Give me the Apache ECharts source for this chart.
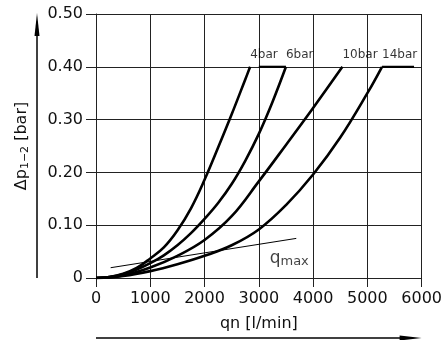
<!DOCTYPE html>
<html><head><meta charset="utf-8">
<script src="https://cdn.jsdelivr.net/npm/echarts@6/dist/echarts.min.js"></script>
<style>html,body{margin:0;padding:0;background:#fff}#c{width:445px;height:340px}</style>
</head><body><div id="c"></div>
<script>
// ---- data (flow qn [l/min], pressure drop [bar]) ----
const curveNames = ['4bar', '6bar', '10bar', '14bar'];
const q4  = [0, 250, 500, 750, 1000, 1250, 1500, 1750, 2000, 2250, 2500, 2750, 2840];
const p4  = [0, 0.002, 0.008, 0.019, 0.037, 0.058, 0.09, 0.132, 0.186, 0.247, 0.31, 0.376, 0.40];
const q6  = [0, 250, 500, 750, 1000, 1250, 1500, 1750, 2000, 2250, 2500, 2750, 3000, 3250, 3500];
const p6  = [0, 0.002, 0.007, 0.016, 0.028, 0.043, 0.062, 0.085, 0.112, 0.142, 0.178, 0.222, 0.273, 0.333, 0.40];
const q10 = [0, 500, 1000, 1500, 2000, 2500, 3000, 3500, 4000, 4540];
const p10 = [0, 0.005, 0.02, 0.042, 0.072, 0.117, 0.183, 0.252, 0.322, 0.40];
const q14 = [0, 500, 1000, 1500, 2000, 2500, 3000, 3500, 4000, 4500, 5000, 5270];
const p14 = [0, 0.004, 0.013, 0.026, 0.042, 0.062, 0.092, 0.138, 0.196, 0.266, 0.35, 0.40];
const cap6q = [3000, 3500];
const cap6p = [0.40, 0.40];
const cap14q = [5270, 5860];
const cap14p = [0.40, 0.40];
const qmaxQ = [270, 3690];
const qmaxP = [0.0195, 0.075];
const qmaxLabelAt = [3200, 0.037];
const yTicks = [0, 0.1, 0.2, 0.3, 0.4, 0.5];
const xTicks = [0, 1000, 2000, 3000, 4000, 5000, 6000];

const zip = (a, b) => a.map((v, i) => [v, b[i]]);
const FONT = 'DejaVu Sans';
const curves = [zip(q4, p4), zip(q6, p6), zip(q10, p10), zip(q14, p14)];
const labelPts = curves.map((c, i) => {
  const top = c.find(p => p[1] >= 0.4);
  return { value: top, name: curveNames[i] };
});

const chart = echarts.init(document.getElementById('c'), null, { renderer: 'canvas', width: 445, height: 340 });
const curveSeries = curves.map((d, i) => ({
  type: 'line', name: curveNames[i], data: d, smooth: 0.4,
  showSymbol: false, lineStyle: { color: '#000', width: 2.6 }, z: 5, silent: true
}));
const capSeries = [zip(cap6q, cap6p), zip(cap14q, cap14p)].map((d, i) => ({
  type: 'line', name: 'cap' + i, data: d, showSymbol: false,
  lineStyle: { color: '#000', width: 2.2 }, z: 5, silent: true
}));
const option = {
  animation: false,
  textStyle: { fontFamily: FONT },
  grid: { left: 96, right: 20, top: 14, bottom: 62, show: false },
  xAxis: {
    type: 'value', min: xTicks[0], max: xTicks[xTicks.length - 1], interval: 1000,
    axisLine: { show: true, lineStyle: { color: '#222', width: 1 } },
    axisTick: { show: true, length: 9, lineStyle: { color: '#222' } },
    splitLine: { show: true, lineStyle: { color: '#222', width: 1 } },
    axisLabel: { interval: 1, color: '#111', fontSize: 16, margin: 13, fontFamily: FONT,
      formatter: v => String(v) },
    name: 'qn [l/min]', nameLocation: 'middle', nameGap: 38,
    nameTextStyle: { color: '#111', fontSize: 16, fontFamily: FONT }
  },
  yAxis: {
    type: 'value', min: yTicks[0], max: yTicks[yTicks.length - 1], interval: 0.1,
    axisLine: { show: true, lineStyle: { color: '#222', width: 1 } },
    axisTick: { show: true, length: 10, lineStyle: { color: '#222' } },
    splitLine: { show: true, lineStyle: { color: '#222', width: 1 } },
    axisLabel: { color: '#111', fontSize: 16, margin: 13, fontFamily: FONT,
      formatter: v => (v === 0 ? '0' : v.toFixed(2)) },
    name: 'Δp{s|1−2} [bar]', nameLocation: 'middle', nameGap: 65, nameRotate: 90,
    nameTextStyle: { color: '#111', fontSize: 16, fontFamily: FONT,
      rich: { s: { fontSize: 11, verticalAlign: 'bottom', padding: [8, 0, 0, 0], fontFamily: FONT, color: '#111' } } }
  },
  series: curveSeries.concat(capSeries, [
    { type: 'line', name: 'qmax', data: zip(qmaxQ, qmaxP), showSymbol: false,
      lineStyle: { color: '#000', width: 1 }, z: 4, silent: true },
    { type: 'scatter', name: 'labels', data: labelPts, symbolSize: 0, silent: true, z: 6,
      label: { show: true, formatter: p => p.name, position: [0, 0], align: 'left',
        verticalAlign: 'bottom', offset: [0, -6], color: '#000', fontSize: 12, fontFamily: FONT } },
    { type: 'scatter', name: 'qmaxLabel', data: [qmaxLabelAt], symbolSize: 0, silent: true, z: 6,
      label: { show: true, formatter: 'q{s|max}', position: [0, 0], align: 'left', verticalAlign: 'middle',
        color: '#111', fontSize: 17, fontFamily: FONT,
        rich: { s: { fontSize: 13, verticalAlign: 'bottom', padding: [6, 0, 0, 0], color: '#111', fontFamily: FONT } } } }
  ])
};
chart.setOption(option);

// axis arrows (decoration), positioned from the grid
const o = chart.convertToPixel({ gridIndex: 0 }, [0, 0]);
const tr = chart.convertToPixel({ gridIndex: 0 }, [6000, 0.5]);
const ax = 37, by = 338;
chart.setOption({
  graphic: [
    { type: 'line', shape: { x1: ax, y1: o[1], x2: ax, y2: tr[1] + 16 }, style: { stroke: '#000', lineWidth: 1.5 } },
    { type: 'polygon', shape: { points: [[ax, tr[1] - 1], [ax - 2.5, tr[1] + 22], [ax + 2.5, tr[1] + 22]] }, style: { fill: '#000' } },
    { type: 'line', shape: { x1: o[0], y1: by, x2: tr[0] - 16, y2: by }, style: { stroke: '#000', lineWidth: 1.5 } },
    { type: 'polygon', shape: { points: [[tr[0], by], [tr[0] - 22, by - 2.5], [tr[0] - 22, by + 2.5]] }, style: { fill: '#000' } }
  ]
});
</script></body></html>
